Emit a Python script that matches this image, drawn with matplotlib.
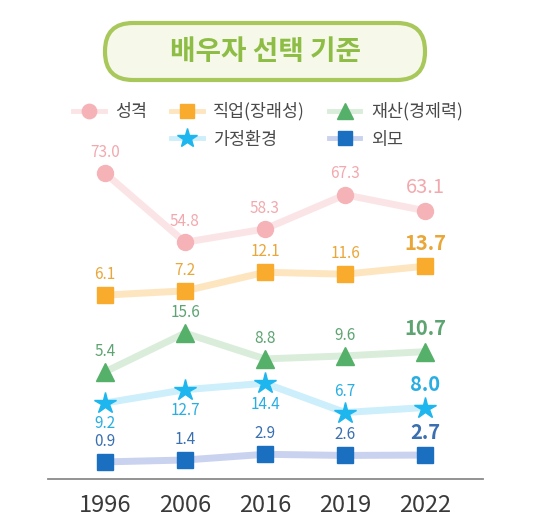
import matplotlib
matplotlib.use("Agg")
import matplotlib.pyplot as plt
from matplotlib.patches import FancyBboxPatch
from matplotlib.lines import Line2D

plt.rcParams['font.family'] = ['Noto Sans CJK KR', 'DejaVu Sans']

# data
years = ['1996', '2006', '2016', '2019', '2022']
personality = [73.0, 54.8, 58.3, 67.3, 63.1]
job = [6.1, 7.2, 12.1, 11.6, 13.7]
wealth = [5.4, 15.6, 8.8, 9.6, 10.7]
family = [9.2, 12.7, 14.4, 6.7, 8.0]
looks = [0.9, 1.4, 2.9, 2.6, 2.7]

# each series sits in its own band, same vertical scale
series = [
    # name, values, band offset, marker, size, marker col, line col, text col, label side per point
    ('성격', personality, 7.5, 'o', 11.5, '#f5b3b7', '#fbe4e6', '#f2a9ae', [1, 1, 1, 1, 1]),
    ('직업(장래성)', job, 42.3, 's', 11, '#f9ab2e', '#fde5c0', '#e9a73a', [1, 1, 1, 1, 1]),
    ('재산(경제력)', wealth, 22.8, '^', 13, '#55b06a', '#d9edda', '#5ea472', [1, 1, 1, 1, 1]),
    ('가정환경', family, 10.8, '*', 16, '#1eb6ee', '#cdeefb', '#2aaee2', [-1, -1, -1, 1, 1]),
    ('외모', looks, 3.6, 's', 11, '#1a6fc0', '#c9d2ef', '#3a6fb0', [1, 1, 1, 1, 1]),
]

fig = plt.figure(figsize=(5.4, 5.3), dpi=100)

# pixel overlay for the title pill
px = fig.add_axes([0, 0, 1, 1])
px.set_xlim(0, 540)
px.set_ylim(530, 0)
px.axis('off')
pill = FancyBboxPatch((105, 23), 320, 57, boxstyle='round,pad=0,rounding_size=28',
                      fc='#f6f9ea', ec='#a9c85c', lw=3)
px.add_patch(pill)
px.text(265, 52, '배우자 선택 기준', ha='center', va='center',
        fontsize=20, fontweight='bold', color='#8dbd44')

ax = fig.add_axes([0, 0, 1, 1])
ax.patch.set_alpha(0)
x = list(range(len(years)))
ax.set_xlim(-105 / 80, 435 / 80)
ax.set_ylim(-51 / 3.8, 479 / 3.8)
ax.axis('off')

handles = {}
for name, vals, off, mk, ms, mc, lc, tc, side in series:
    ys = [v + off for v in vals]
    ax.plot(x, ys, color=lc, lw=5, solid_capstyle='round', zorder=2)
    ax.plot(x, ys, ls='none', marker=mk, ms=ms, mfc=mc, mec=mc, zorder=3)
    handles[name] = Line2D([], [], color=lc, lw=3.5, marker=mk, ms=ms * 0.9,
                           mfc=mc, mec=mc)
    for i, (xi, yi, v) in enumerate(zip(x, ys, vals)):
        last = i == len(vals) - 1
        dy = 15 * side[i] if not last else 16.5
        ax.annotate(f'{v:.1f}', (xi, yi), xytext=(0, dy), textcoords='offset points',
                    ha='center', va='center', color=tc,
                    fontsize=14.5 if last else 11,
                    fontweight='bold' if last and name != '성격' else 'normal',
                    zorder=4)

# baseline and year labels
ax.plot([-57 / 80, 378 / 80], [0, 0], color='#8a8a8a', lw=1.3)
for xi, yr in zip(x, years):
    ax.text(xi, -27 / 3.8, yr, ha='center', va='center', fontsize=17, color='#3a3a3a')

# legend: blank slot keeps the second row under the 2nd and 3rd columns
blank = Line2D([], [], ls='none')
order = [handles['성격'], blank, handles['직업(장래성)'], handles['가정환경'],
         handles['재산(경제력)'], handles['외모']]
labels = ['성격', '', '직업(장래성)', '가정환경', '재산(경제력)', '외모']
fig.legend(order, labels, ncol=3, loc='center', bbox_to_anchor=(268 / 540, 1 - 125.5 / 530),
           frameon=False, fontsize=12.5, handlelength=1.8, columnspacing=1.4,
           labelspacing=0.55, handletextpad=0.6, labelcolor='#4a4a4a')

fig.savefig('out.png', dpi=100, facecolor='white')
